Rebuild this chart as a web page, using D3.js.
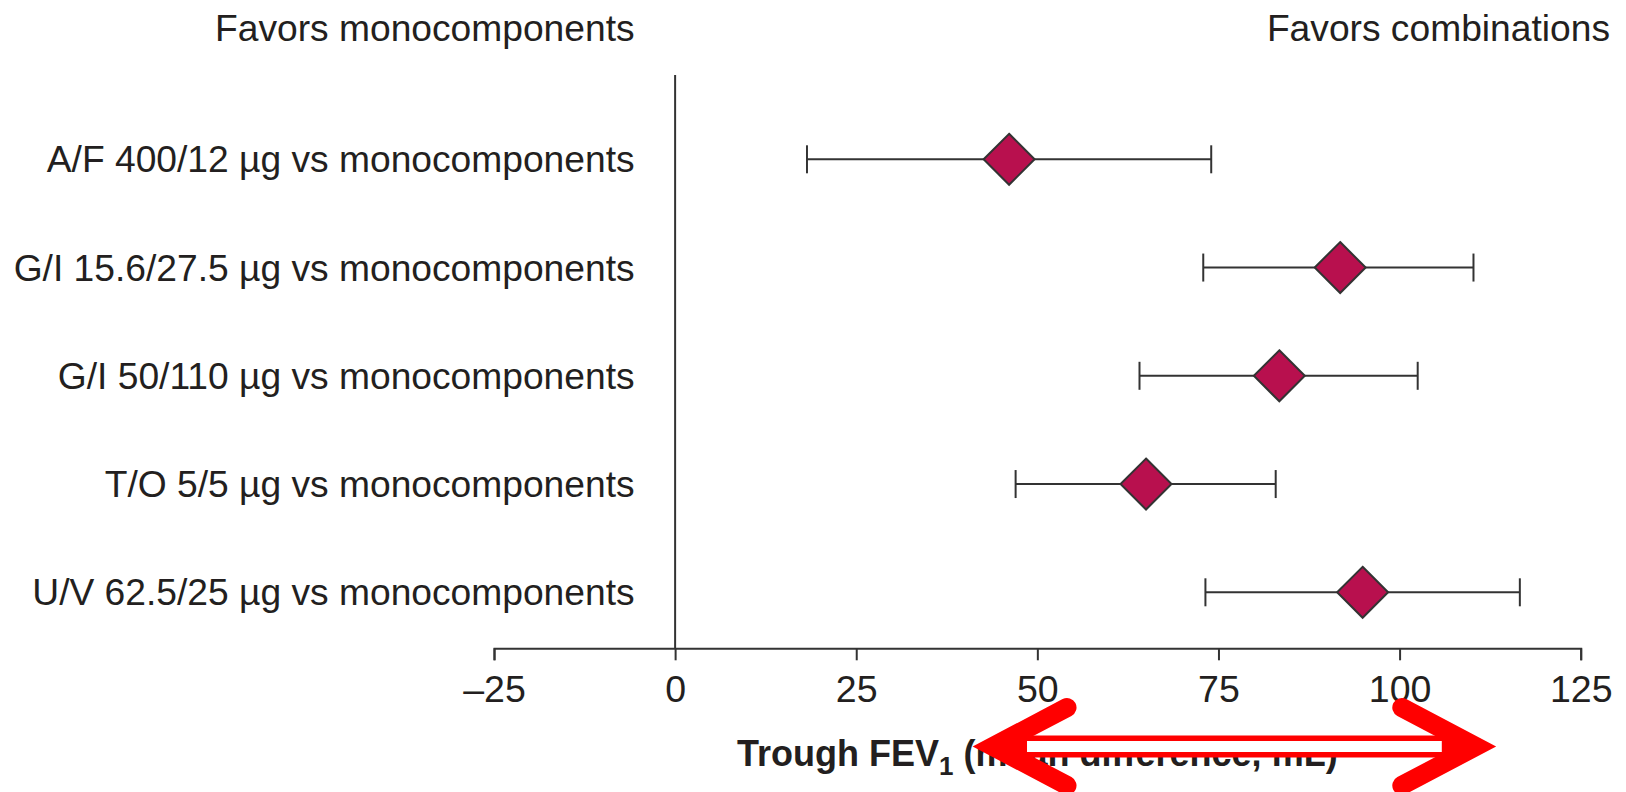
<!DOCTYPE html>
<html>
<head>
<meta charset="utf-8">
<script src="https://cdn.jsdelivr.net/npm/d3@7"></script>
<style>
  html, body { margin: 0; padding: 0; background: #ffffff; }
  svg { display: block; }
  text { font-family: "Liberation Sans", Arial, Helvetica, sans-serif; fill: #231f20; }
</style>
</head>
<body>
<svg id="chart" width="1626" height="792"></svg>
<script>
// Comparisons (top to bottom)
const comparisons = [
  "A/F 400/12 \u00b5g vs monocomponents",
  "G/I 15.6/27.5 \u00b5g vs monocomponents",
  "G/I 50/110 \u00b5g vs monocomponents",
  "T/O 5/5 \u00b5g vs monocomponents",
  "U/V 62.5/25 \u00b5g vs monocomponents"
];
// Mean difference in trough FEV1 (mL) with 95% CI
const meanDiff = [46.1, 91.8, 83.4, 65.0, 94.9];
const ciLower  = [18.2, 72.9, 64.1, 47.0, 73.2];
const ciUpper  = [74.0, 110.2, 102.5, 82.9, 116.6];
const xTicks   = [-25, 0, 25, 50, 75, 100, 125];
// Span of the double-headed marker drawn across the axis title (mL)
const arrowSpan = [42.5, 111.9];

const svg = d3.select("#chart");
const ink = "#333333";
const fillColor = "#b8104e";

const x = d3.scaleLinear().domain([-25, 125]).range([494, 1580.7]);
const y = d3.scalePoint().domain(comparisons).range([159.3, 592.3]);
const axisY = 648.3;
const topY = 75;

// Axis
const axis = d3.axisBottom(x)
  .tickValues(xTicks)
  .tickSize(12)
  .tickSizeOuter(12)
  .tickPadding(15)
  .tickFormat(d => d < 0 ? "\u2013" + Math.abs(d) : String(d));

const gAxis = svg.append("g")
  .attr("transform", `translate(0,${axisY})`)
  .call(axis);
gAxis.select(".domain").attr("stroke", ink).attr("stroke-width", 2);
gAxis.selectAll(".tick line").attr("stroke", ink).attr("stroke-width", 2);
gAxis.selectAll(".tick text")
  .attr("font-size", 37.5)
  .attr("font-family", "Liberation Sans, Arial, sans-serif")
  .attr("fill", "#231f20");

// Line of no effect
svg.append("line")
  .attr("x1", x(0)).attr("x2", x(0))
  .attr("y1", topY).attr("y2", axisY)
  .attr("stroke", ink).attr("stroke-width", 2);

// Row labels
svg.append("g").selectAll("text")
  .data(comparisons)
  .join("text")
  .attr("x", 634.6)
  .attr("y", d => y(d))
  .attr("dy", "0.35em")
  .attr("text-anchor", "end")
  .attr("font-size", 37.2)
  .text(d => d);

// Confidence intervals
const rows = comparisons.map((c, i) => ({ c, m: meanDiff[i], lo: ciLower[i], hi: ciUpper[i] }));
const capH = 14;
const gCi = svg.append("g").attr("stroke", ink).attr("stroke-width", 2);
gCi.selectAll("line.ci")
  .data(rows).join("line").attr("class", "ci")
  .attr("x1", d => x(d.lo)).attr("x2", d => x(d.hi))
  .attr("y1", d => y(d.c)).attr("y2", d => y(d.c));
gCi.selectAll("line.lo")
  .data(rows).join("line").attr("class", "lo")
  .attr("x1", d => x(d.lo)).attr("x2", d => x(d.lo))
  .attr("y1", d => y(d.c) - capH).attr("y2", d => y(d.c) + capH);
gCi.selectAll("line.hi")
  .data(rows).join("line").attr("class", "hi")
  .attr("x1", d => x(d.hi)).attr("x2", d => x(d.hi))
  .attr("y1", d => y(d.c) - capH).attr("y2", d => y(d.c) + capH);

// Point estimates as diamonds
const r = 25.5;
svg.append("g").selectAll("path")
  .data(rows).join("path")
  .attr("d", d => {
    const cx = x(d.m), cy = y(d.c);
    return `M${cx},${cy - r}L${cx + r},${cy}L${cx},${cy + r}L${cx - r},${cy}Z`;
  })
  .attr("fill", fillColor)
  .attr("stroke", ink)
  .attr("stroke-width", 2)
  .attr("stroke-linejoin", "miter");

// Direction captions
svg.append("text")
  .attr("x", 634.6).attr("y", 41)
  .attr("text-anchor", "end")
  .attr("font-size", 37.2)
  .text("Favors monocomponents");
svg.append("text")
  .attr("x", 1610).attr("y", 41)
  .attr("text-anchor", "end")
  .attr("font-size", 37.2)
  .text("Favors combinations");

// Axis title with subscript
const title = svg.append("text")
  .attr("x", (x.range()[0] + x.range()[1]) / 2)
  .attr("y", 766)
  .attr("text-anchor", "middle")
  .attr("font-size", 36)
  .attr("font-weight", "bold");
title.append("tspan").text("Trough FEV");
title.append("tspan").attr("font-size", 26).attr("dy", 9).text("1");
title.append("tspan").attr("dy", -9).text(" (mean difference, mL)");

// Red double-headed marker over the axis title
const ay = 746.5;
const xl = x(arrowSpan[0]), xr = x(arrowSpan[1]);
const headW = 84, headH = 39;
const gArrow = svg.append("g");
gArrow.append("line")
  .attr("x1", xl + 12).attr("x2", xr - 12)
  .attr("y1", ay).attr("y2", ay)
  .attr("stroke", "#ff0000").attr("stroke-width", 22);
gArrow.append("line")
  .attr("x1", xl + 44).attr("x2", xr - 44)
  .attr("y1", ay).attr("y2", ay)
  .attr("stroke", "#ffffff").attr("stroke-width", 11);
gArrow.append("path")
  .attr("d", `M${xl + headW},${ay - headH}L${xl + 10},${ay}L${xl + headW},${ay + headH}`)
  .attr("fill", "none").attr("stroke", "#ff0000").attr("stroke-width", 19)
  .attr("stroke-linecap", "round").attr("stroke-linejoin", "miter").attr("stroke-miterlimit", 10);
gArrow.append("path")
  .attr("d", `M${xr - headW},${ay - headH}L${xr - 10},${ay}L${xr - headW},${ay + headH}`)
  .attr("fill", "none").attr("stroke", "#ff0000").attr("stroke-width", 19)
  .attr("stroke-linecap", "round").attr("stroke-linejoin", "miter").attr("stroke-miterlimit", 10);
</script>
</body>
</html>
